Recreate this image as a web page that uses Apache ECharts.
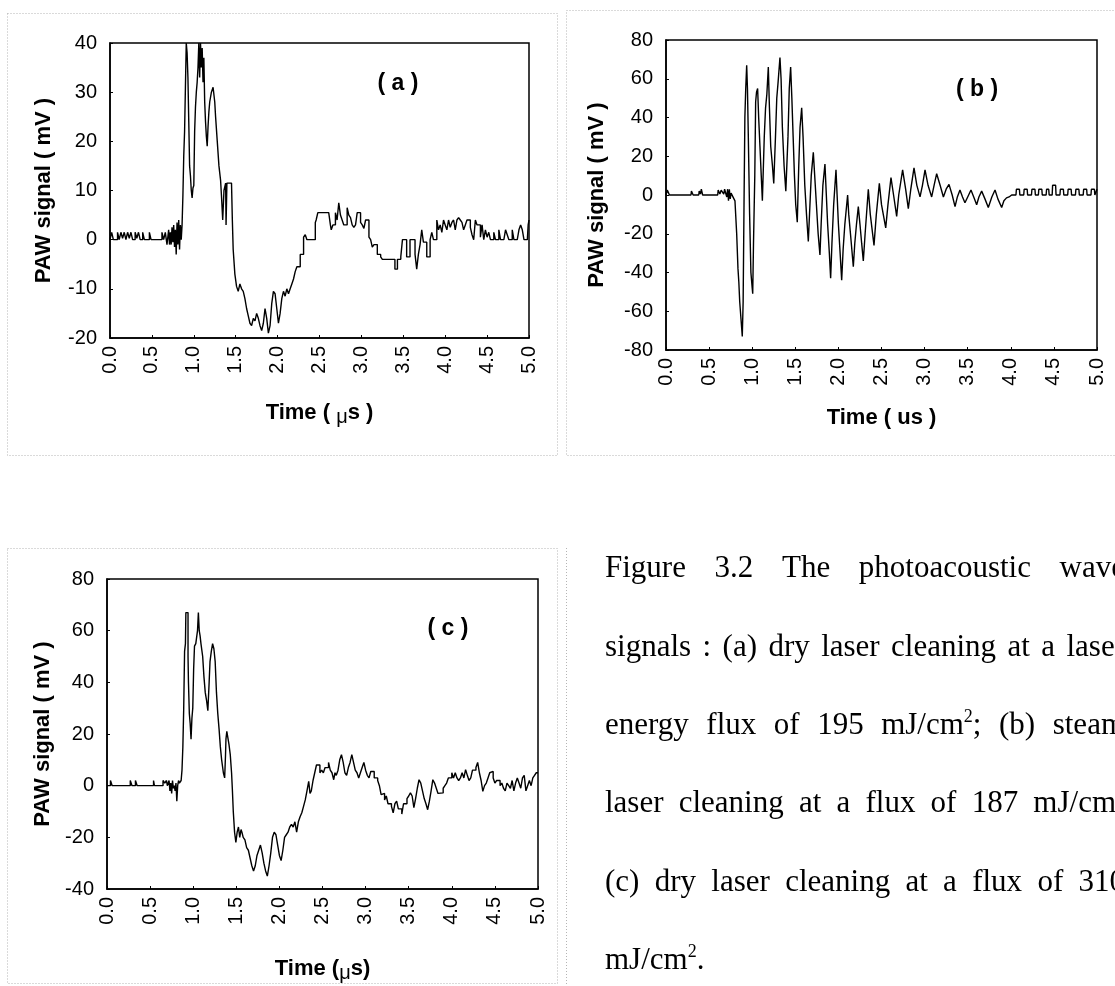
<!DOCTYPE html>
<html>
<head>
<meta charset="utf-8">
<script src="https://cdn.jsdelivr.net/npm/echarts@6/dist/echarts.min.js"></script>
<style>
  html, body { margin: 0; padding: 0; background: #fff; }
  #main { width: 1115px; height: 986px; }
</style>
</head>
<body>
<div id="main"></div>
<script>

// (a) dry laser cleaning, 195 mJ/cm2
const timeA = [0.00,0.02,0.04,0.09,0.11,0.13,0.15,0.17,0.19,0.21,0.23,0.25,0.27,0.30,0.32,0.34,0.36,0.39,0.41,0.47,0.49,0.62,0.64,0.66,0.68,0.70,0.71,0.72,0.73,0.74,0.75,0.76,0.77,0.78,0.79,0.80,0.81,0.82,0.83,0.84,0.85,0.86,0.87,0.88,0.89,0.90,0.91,0.92,0.93,0.94,0.95,0.96,0.97,0.98,0.99,1.00,1.01,1.02,1.03,1.04,1.05,1.06,1.07,1.08,1.09,1.10,1.11,1.12,1.13,1.14,1.15,1.16,1.17,1.18,1.19,1.21,1.23,1.25,1.26,1.28,1.30,1.32,1.33,1.345,1.36,1.38,1.385,1.395,1.45,1.46,1.47,1.49,1.51,1.53,1.55,1.57,1.59,1.61,1.63,1.65,1.67,1.69,1.71,1.73,1.75,1.77,1.79,1.81,1.83,1.85,1.87,1.89,1.91,1.93,1.95,1.97,1.99,2.01,2.03,2.05,2.07,2.09,2.11,2.13,2.15,2.17,2.19,2.21,2.23,2.25,2.27,2.29,2.31,2.33,2.35,2.37,2.45,2.46,2.48,2.61,2.63,2.64,2.66,2.69,2.71,2.73,2.75,2.77,2.79,2.81,2.83,2.85,2.87,2.89,2.91,2.93,2.95,2.97,2.99,3.01,3.03,3.05,3.07,3.09,3.11,3.13,3.15,3.17,3.19,3.21,3.23,3.25,3.27,3.40,3.43,3.45,3.47,3.49,3.51,3.54,3.56,3.58,3.60,3.64,3.66,3.68,3.70,3.72,3.74,3.76,3.78,3.80,3.82,3.84,3.86,3.88,3.90,3.92,3.94,3.96,3.98,4.00,4.02,4.04,4.06,4.08,4.10,4.12,4.14,4.16,4.18,4.20,4.22,4.24,4.26,4.28,4.30,4.32,4.34,4.36,4.38,4.40,4.42,4.44,4.46,4.48,4.50,4.52,4.54,4.58,4.60,4.64,4.66,4.70,4.72,4.74,4.76,4.80,4.82,4.86,4.88,4.90,4.92,4.94,4.98,4.99,5.00];
const signalA = [0,1.5,0,1.5,0,1.5,0.3,1.5,0,1.5,0.3,1.5,0,1.5,0.3,1.5,0,1.5,0,1.5,0,1.5,0,1.5,-1,2,-1,1.5,-1,2.5,-0.5,3,-1.5,2,-3,3.5,-1,4,-2,3,0,3,9,17,22,31,40,38,33,24,15,13,10,8.5,10.5,11,22,27,30,32,35,40,33,40,35,39,32,37,28,24,21,19,23,26,28,30,31,28,25,20,15,12,9,4,10,11.5,3,11.5,11.5,4,-2,-7,-9.5,-10.5,-9,-10,-10.5,-12,-14,-15.5,-17,-17.5,-16,-16.5,-15,-16,-17.5,-18.5,-17,-14,-16,-19,-17.5,-13,-10.5,-11,-14,-17,-15,-12,-10.5,-11.5,-10,-11,-10,-9,-8,-6.5,-5.5,-5.5,-3,-3,0.5,1,0,0,3.5,4,5.5,5.5,3,2,3,5.5,4,7.5,5,4,3,3,6.5,5,4.5,3,2.5,3,5.5,5.5,3.5,3,2.3,4,4,0.5,0,-1.5,-1,-1,-3,-3,-3.5,-4,-4,-6,-4,-4,-3.5,0,0,-3.5,-3.5,0,0,-3,-6,-3,-1,2,-0.5,-0.5,-3.5,-3.5,0,1.5,0,0,4,2,3,1.5,4,3,2,4,2.5,3.5,4,2,4,4.5,4,3.5,2,3,4,4,2.5,1,0,4,3,3,0.5,3,0,2,0.5,1.5,0,1.5,0,2,0,0,2,1,0,2,0,0,2,3,2,0,0,3,4];

// (b) steam laser cleaning, 187 mJ/cm2
const timeB = [0.00,0.01,0.015,0.035,0.04,0.29,0.295,0.31,0.315,0.38,0.385,0.395,0.40,0.41,0.42,0.425,0.60,0.605,0.62,0.625,0.64,0.66,0.67,0.68,0.70,0.705,0.715,0.725,0.735,0.745,0.755,0.77,0.80,0.82,0.835,0.845,0.855,0.87,0.885,0.895,0.905,0.915,0.925,0.936,0.945,0.955,0.97,0.985,1.00,1.006,1.015,1.03,1.04,1.05,1.063,1.075,1.09,1.105,1.118,1.129,1.14,1.155,1.17,1.187,1.20,1.215,1.235,1.25,1.257,1.27,1.285,1.30,1.322,1.335,1.35,1.37,1.39,1.40,1.415,1.43,1.446,1.46,1.475,1.49,1.505,1.523,1.54,1.555,1.574,1.59,1.61,1.63,1.651,1.665,1.685,1.709,1.725,1.745,1.765,1.786,1.80,1.82,1.844,1.86,1.875,1.895,1.91,1.925,1.945,1.972,1.985,2.00,2.02,2.038,2.055,2.075,2.107,2.12,2.14,2.173,2.19,2.21,2.231,2.25,2.27,2.289,2.31,2.347,2.37,2.413,2.44,2.475,2.50,2.549,2.575,2.61,2.64,2.676,2.70,2.745,2.78,2.811,2.84,2.877,2.91,2.947,2.975,3.005,3.04,3.082,3.11,3.14,3.18,3.218,3.25,3.283,3.32,3.353,3.38,3.41,3.44,3.468,3.50,3.538,3.57,3.604,3.63,3.662,3.70,3.739,3.78,3.817,3.85,3.894,3.92,3.95,3.98,4.01,4.06,4.065,4.10,4.105,4.15,4.155,4.19,4.195,4.24,4.245,4.28,4.285,4.32,4.325,4.36,4.365,4.41,4.415,4.44,4.445,4.48,4.485,4.52,4.525,4.57,4.575,4.61,4.615,4.66,4.665,4.70,4.705,4.75,4.755,4.79,4.795,4.84,4.845,4.88,4.885,4.93,4.935,4.97,4.975,4.99,5.00];
const signalB = [0,0,2.5,2.5,0,0,2,2,0,0,2,2,0.5,3,3,0,0,2.5,2.5,0.5,2.5,2.5,0.5,3,3,-1,3,-3,3,-2,1,0,-3,-20,-38,-45,-55,-64,-73,-55,-5,40,55,67,55,30,-10,-40,-48,-51,-25,10,48,53,55,40,25,10,-3,-4,30,45,52,66,45,25,15,6,6,30,50,58,71,60,35,15,2,2,30,55,66,50,30,10,-5,-14,15,35,45,30,5,-10,-24,-10,10,22,10,-5,-20,-31,-15,5,16,0,-15,-30,-43,-25,-5,13,0,-15,-30,-44,-28,-15,0,-10,-20,-37,-25,-15,-6,-15,-25,-34,-20,3,-10,-26,-10,6,-5,-17,-5,9,0,-11,0,13,3,-7,3,14,5,-1,5,13,5,-1,5,11,5,-1,3,5.5,0,-6,-1,2.6,-1,-4,-1,2.6,-1,-5,-1,2,-2,-6.5,-1,2.6,-2,-6.5,-3,-1.5,-1,0,0,3,3,0,0,3,3,0,0,3,3,0,0,3,3,0,0,3,3,0,0,5,5,0,0,3,3,0,0,3,3,0,0,3,3,0,0,3,3,0,0,3,3,0,0,3];

// (c) dry laser cleaning, 310 mJ/cm2
const timeC = [0.00,0.04,0.06,0.27,0.29,0.33,0.35,0.54,0.55,0.65,0.67,0.69,0.70,0.72,0.73,0.74,0.75,0.76,0.77,0.78,0.79,0.80,0.81,0.82,0.83,0.84,0.86,0.87,0.88,0.89,0.90,0.91,0.915,0.94,0.945,0.955,0.965,0.975,0.985,0.995,1.005,1.015,1.03,1.05,1.06,1.07,1.08,1.09,1.11,1.125,1.14,1.155,1.17,1.185,1.195,1.21,1.225,1.24,1.255,1.27,1.285,1.30,1.315,1.33,1.35,1.365,1.375,1.38,1.39,1.40,1.415,1.43,1.445,1.455,1.465,1.48,1.495,1.51,1.525,1.54,1.555,1.565,1.58,1.60,1.62,1.64,1.66,1.68,1.70,1.72,1.74,1.76,1.78,1.80,1.82,1.84,1.86,1.88,1.90,1.92,1.94,1.96,1.98,2.00,2.02,2.04,2.06,2.08,2.10,2.12,2.14,2.16,2.18,2.20,2.22,2.24,2.26,2.28,2.30,2.32,2.34,2.355,2.37,2.39,2.41,2.43,2.47,2.49,2.51,2.53,2.57,2.59,2.61,2.63,2.645,2.66,2.68,2.70,2.72,2.74,2.76,2.78,2.80,2.82,2.84,2.86,2.88,2.90,2.92,2.94,2.96,2.98,3.00,3.02,3.04,3.06,3.10,3.14,3.16,3.18,3.20,3.22,3.24,3.26,3.30,3.32,3.34,3.36,3.38,3.42,3.44,3.48,3.50,3.52,3.54,3.56,3.58,3.60,3.62,3.64,3.66,3.68,3.70,3.72,3.74,3.76,3.78,3.80,3.82,3.84,3.86,3.90,3.92,3.94,3.96,4.00,4.02,4.04,4.06,4.08,4.10,4.12,4.14,4.16,4.18,4.20,4.22,4.24,4.28,4.30,4.32,4.34,4.36,4.38,4.40,4.42,4.44,4.46,4.48,4.50,4.52,4.56,4.58,4.60,4.62,4.64,4.66,4.68,4.70,4.72,4.74,4.76,4.78,4.80,4.82,4.84,4.86,4.88,4.90,4.92,4.94,4.96,4.98,5.00];
const signalC = [0,2,0,2,0,2,0,2,0,2,1,2,0,2,-2,1,-3,2,-1,0,-2,1,-6,0,2,1,2,6,15,30,52,55,67,50,40,28,24,18,26,30,45,54,55,60,67,60,58,55,50,42,36,33,29,40,48,52,55,53,48,36,28,22,15,10,5,3,12,18,21,19,16,12,5,-2,-10,-18,-22,-18,-16,-20,-17,-18,-20,-21,-24,-25,-28,-31,-33,-31,-27,-25,-23,-26,-30,-33,-35,-31,-26,-20,-18,-19,-23,-27,-29,-25,-20,-19,-18,-16,-15,-16,-14,-18,-14,-12,-10.5,-8,-5.5,-2,1.7,-3,-2,2,5,8,5,6,5,7,9,6,5,2.3,5,4,6,10,12,9,5,4,7,9,12,9,6,5,3,5,7,9,6,4,3,5.5,3,2,0,-3.5,-3,-5.5,-4,-7,-8,-10.5,-7,-6,-9,-11,-7,-5,-4,-2.8,-4,-8.5,-5,-1,2.3,1,-2,-5,-7,-9.3,-6,-2,2.3,1,-1,-3,-2.8,-1,0,1,3,5,3,5,3,2,3,5,3,6.2,4,2,3,6,7,9,5,2,-2.2,0,1,3,5,5.5,3,1,2,0,1,-1,-2,1,0,-1,2,-2,1,3,1,-1,3,4,-2,0,2,0,3,4,5];

// axis ranges [min, max, interval]
const timeRange = [0, 5, 0.5];
const rangeA = [-20, 40, 10];
const rangeB = [-80, 80, 20];
const rangeC = [-40, 80, 20];

const panelTags = ['( a )', '( b )', '( c )'];
const yTitle = 'PAW signal ( mV )';
const xTitles = ['Time ( {mu|\u03bc}s )', 'Time ( us )', 'Time ({mu|\u03bc}s)'];

const captionLines = [
  'Figure 3.2 The photoacoustic wave',
  'signals : (a) dry laser cleaning at a laser',
  'energy flux of 195 mJ/cm^2; (b) steam',
  'laser cleaning at a flux of 187 mJ/cm^2',
  '(c) dry laser cleaning at a flux of 310',
  'mJ/cm^2.'
];

const zip = (t, v) => t.map((x, i) => [x, v[i]]);

const SANS = '"Liberation Sans", Arial, sans-serif';
const SERIF = '"Liberation Serif", "Times New Roman", serif';

// panel plot rectangles
const grids = [
  { left: 110, top: 43, width: 419, height: 295 },
  { left: 666, top: 40, width: 431, height: 310 },
  { left: 107, top: 579, width: 431, height: 310 }
];
const ranges = [rangeA, rangeB, rangeC];
const yNameGaps = [55, 58, 53];
const xNameGaps = [60, 57, 65];

function xAxisFor(i) {
  return {
    type: 'value', gridIndex: i,
    min: timeRange[0], max: timeRange[1], interval: timeRange[2],
    name: xTitles[i], nameLocation: 'middle', nameGap: xNameGaps[i],
    nameTextStyle: {
      fontFamily: SANS, fontWeight: 'bold', fontSize: 22, color: '#000',
      rich: { mu: { fontFamily: SANS, fontWeight: 'normal', fontSize: 20, color: '#000', padding: [9, 0, 0, 0] } }
    },
    axisLine: { show: true, onZero: false, lineStyle: { color: '#000', width: 1.5 } },
    axisTick: { show: true, inside: true, length: 3, lineStyle: { color: '#000' } },
    axisLabel: {
      rotate: 90, margin: 8, fontFamily: SANS, fontSize: 20, color: '#000',
      formatter: v => v.toFixed(1)
    },
    splitLine: { show: false }
  };
}
function yAxisFor(i) {
  const r = ranges[i];
  return {
    type: 'value', gridIndex: i, min: r[0], max: r[1], interval: r[2],
    name: yTitle, nameLocation: 'middle', nameGap: yNameGaps[i], nameRotate: 90,
    nameTextStyle: { fontFamily: SANS, fontWeight: 'bold', fontSize: 22, color: '#000' },
    axisLine: { show: true, onZero: false, lineStyle: { color: '#000', width: 1.5 } },
    axisTick: { show: true, inside: true, length: 3, lineStyle: { color: '#000' } },
    axisLabel: { margin: 13, fontFamily: SANS, fontSize: 20, color: '#000' },
    splitLine: { show: false }
  };
}
// stepped traces for the pulses, plain line for the ringing signal
function traceFor(i, t, v, step) {
  return {
    type: 'line', xAxisIndex: i, yAxisIndex: i,
    data: zip(t, v), step: step, showSymbol: false, symbol: 'none',
    lineStyle: { color: '#000', width: 1.4 }, clip: true, silent: true
  };
}

// caption: justified serif paragraph built from measured word widths
const measureCtx = document.createElement('canvas').getContext('2d');
function segmentsOf(word) {
  const out = [];
  const parts = word.split('^');
  out.push({ text: parts[0], sup: false });
  for (let k = 1; k < parts.length; k++) {
    out.push({ text: parts[k].charAt(0), sup: true });
    if (parts[k].length > 1) out.push({ text: parts[k].slice(1), sup: false });
  }
  return out.filter(s => s.text.length);
}
function widthOf(seg, size, supSize) {
  measureCtx.font = (seg.sup ? supSize : size) + 'px ' + SERIF;
  return measureCtx.measureText(seg.text).width;
}
function captionGraphics() {
  const size = 31, supSize = 18;
  const x0 = 605, x1 = 1125, y0 = 569, dy = 78.4;
  const els = [];
  captionLines.forEach((line, li) => {
    const words = line.split(' ').map(w => {
      const segs = segmentsOf(w);
      segs.forEach(s => { s.w = widthOf(s, size, supSize); });
      return { segs, w: segs.reduce((a, s) => a + s.w, 0) };
    });
    const total = words.reduce((a, w) => a + w.w, 0);
    measureCtx.font = size + 'px ' + SERIF;
    const space = measureCtx.measureText(' ').width;
    const last = li === captionLines.length - 1;
    const gap = (!last && words.length > 1) ? (x1 - x0 - total) / (words.length - 1) : space;
    let x = x0;
    const y = y0 + li * dy;
    words.forEach(w => {
      let sx = x;
      w.segs.forEach(s => {
        els.push({
          type: 'text', x: sx, y: s.sup ? y - 9 : y, silent: true,
          style: {
            text: s.text, fill: '#000', fontFamily: SERIF,
            fontSize: s.sup ? supSize : size,
            textAlign: 'left', textVerticalAlign: 'middle', align: 'left', verticalAlign: 'middle'
          }
        });
        sx += s.w;
      });
      x += w.w + gap;
    });
  });
  return els;
}

// dotted panel outlines
function dottedRect(x, y, w, h) {
  return {
    type: 'rect', silent: true, shape: { x, y, width: w, height: h },
    style: { fill: 'none', stroke: '#b4b4b4', lineWidth: 1, lineDash: [1, 2] }
  };
}
function tag(i, x, y) {
  return {
    type: 'text', x, y, silent: true,
    style: {
      text: panelTags[i], fill: '#000', fontFamily: SANS, fontWeight: 'bold', fontSize: 23,
      textAlign: 'center', textVerticalAlign: 'middle', align: 'center', verticalAlign: 'middle'
    }
  };
}

const chart = echarts.init(document.getElementById('main'), null, { renderer: 'canvas' });
chart.setOption({
  animation: false,
  backgroundColor: '#fff',
  grid: grids.map(g => Object.assign({ show: true, borderColor: '#000', borderWidth: 1.5, backgroundColor: 'transparent', containLabel: false }, g)),
  xAxis: [0, 1, 2].map(xAxisFor),
  yAxis: [0, 1, 2].map(yAxisFor),
  series: [
    traceFor(0, timeA, signalA, 'end'),
    traceFor(1, timeB, signalB, false),
    traceFor(2, timeC, signalC, 'end')
  ],
  graphic: [
    dottedRect(7.5, 13.5, 550, 442),
    dottedRect(566.5, 10.5, 560, 445),
    dottedRect(7.5, 548.5, 550, 435),
    { type: 'line', silent: true, shape: { x1: 566.5, y1: 548, x2: 566.5, y2: 986 },
      style: { stroke: '#b4b4b4', lineWidth: 1, lineDash: [1, 2] } },
    tag(0, 398, 84),
    tag(1, 977, 90),
    tag(2, 448, 629)
  ].concat(captionGraphics())
});
</script>
</body>
</html>
